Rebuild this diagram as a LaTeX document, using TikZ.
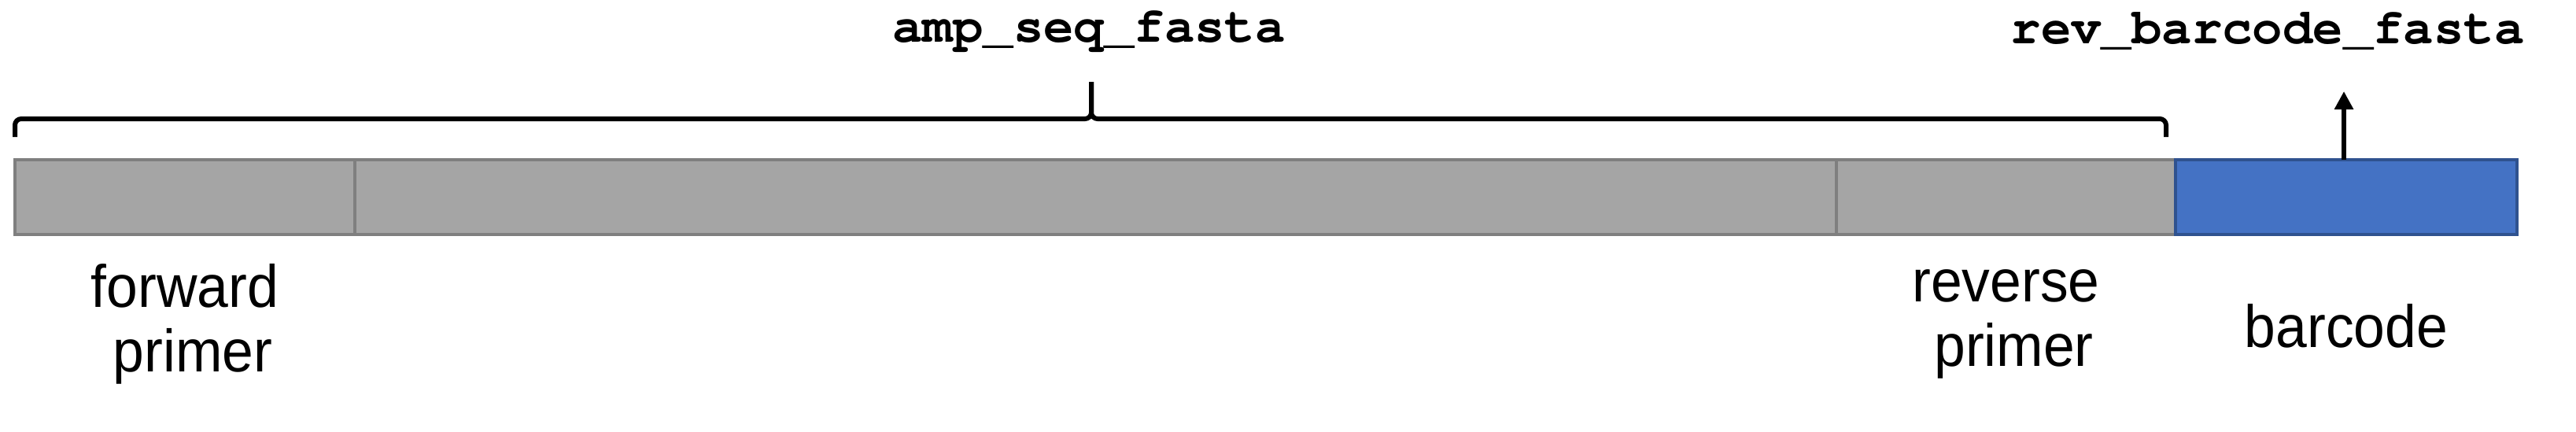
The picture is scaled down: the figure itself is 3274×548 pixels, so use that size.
\documentclass[tikz,border=0pt]{standalone}
\usepackage{fontspec}
\setmainfont{Liberation Sans}
\setmonofont{texgyrecursor}[Extension=.otf, UprightFont=*-regular, BoldFont=*-bold]
\usetikzlibrary{arrows.meta}
\definecolor{segfill}{HTML}{A5A5A5}
\definecolor{segline}{HTML}{7F7F7F}
\definecolor{bcfill}{HTML}{4472C4}
\definecolor{bcline}{HTML}{2F528F}
\tikzset{
  seg/.style={draw=segline, fill=segfill, line width=1pt, inner sep=0pt, outer sep=0pt,
    minimum height=23.75pt, anchor=north west},
  bcbox/.style={seg, draw=bcline, fill=bcfill},
  lab/.style={font=\fontsize{19}{20.5}\selectfont, align=center, inner sep=0pt},
  code/.style={font=\fontsize{16}{18}\selectfont\ttfamily\bfseries, inner sep=0pt},
  bracepath/.style={line width=1.5pt, rounded corners=2pt},
}
\newcommand{\nar}[1]{\scalebox{0.94}[1]{#1}}
\begin{document}
\begin{tikzpicture}[x=0.25pt, y=-0.25pt]
\useasboundingbox (0,0) rectangle (3274,548);
% boxes
\node[seg, minimum width=108pt] (fp) at (19,203) {};
\node[seg, minimum width=470.75pt] (mid) at (451,203) {};
\node[seg, minimum width=107.75pt] (rp) at (2334,203) {};
\node[bcbox, minimum width=108.5pt] (bc) at (2765,203) {};
% labels
\node[lab] (fpl) at (fp.center |- 0,412) {\nar{forward}\\\hspace*{5pt}\nar{primer}};
\node[lab] (rpl) at (rp.center |- 0,412) {\nar{reverse}\\\hspace*{5pt}\nar{primer}};
\node[lab] (bcl) at (bc.center |- 0,414) {\nar{barcode}};
% code labels
\node[code] (amp) at (1384,40) {amp\_seq\_fasta};
\node[code] (rev) at (2882,40) {rev\_barcode\_fasta};
% brace
\coordinate (bl) at (19,174);
\coordinate (br) at (2753,174);
\coordinate (bm) at (1387,151);
\coordinate (bt) at (1387,104);
\draw[bracepath] (bl) -- (bl |- bm) -- (bm) -- (bt);
\draw[bracepath] (br) -- (br |- bm) -- (bm) -- (bt);
% arrow
\coordinate (at) at (2979,116);
\draw[line width=1.5pt, -{Triangle[length=5.75pt, width=5.75pt]}] (bc.north -| at) -- (at);
\end{tikzpicture}
\end{document}
